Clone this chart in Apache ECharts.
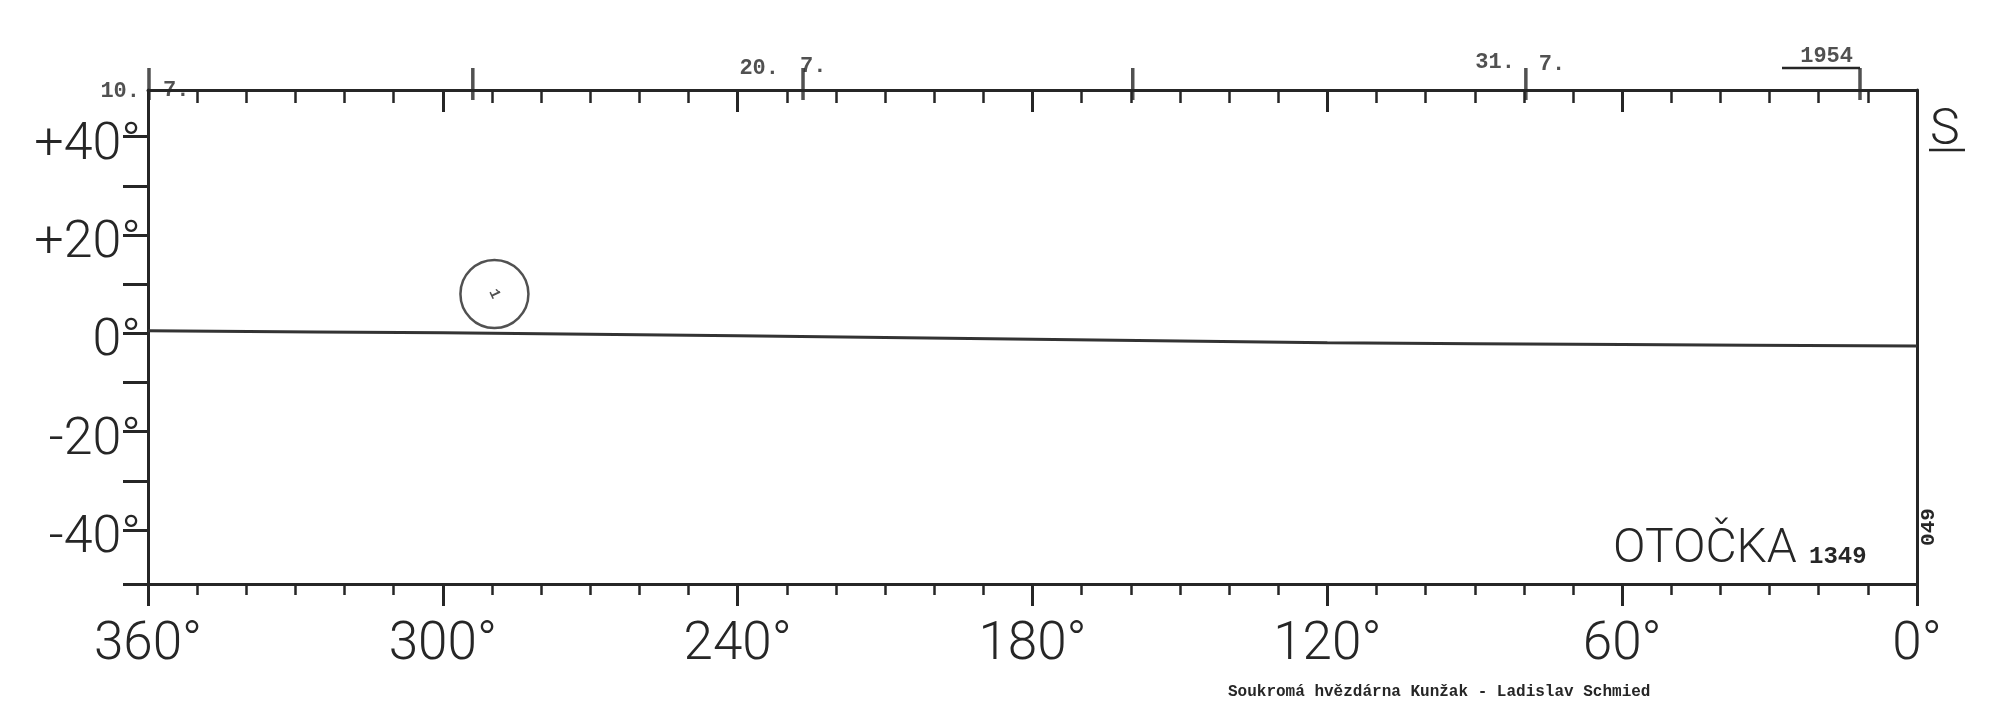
<!DOCTYPE html>
<html>
<head>
<meta charset="utf-8">
<script src="https://cdn.jsdelivr.net/npm/echarts@6/dist/echarts.min.js"></script>
<style>
html,body{margin:0;padding:0;background:#fff;}
#c{width:2000px;height:713px;}
</style>
</head>
<body>
<div id="c"></div>
<script>
// ---- data ----
const lonLabels = [360, 300, 240, 180, 120, 60, 0];
const latLabels = [40, 20, 0, -20, -40];
const latTicks = [-51, -40, -30, -20, -10, 0, 10, 20, 30, 40];
const equatorLon = [360, 300, 240, 180, 120, 60, 0];
const equatorLat = [0.5, 0.1, -0.5, -1.2, -1.9, -2.3, -2.6];
const groupLon = [289.5];
const groupLat = [8];
const groupNo = ['1'];
const dateMarkLon = [359.8, 293.9, 226.7, 159.6, 79.6, 11.6];
const dateLabelLeft = ['10.', '', '20.', '', '31.', '1954'];
const dateLabelRight = ['7.', '', '7.', '', '7.', ''];
const rotationNo = '1349';
const title = 'OTOČKA';
const sideCode = '049';
const hemisphere = 'S';
const credit = 'Soukromá hvězdárna Kunžak - Ladislav Schmied';

const LAT_MIN = -51, LAT_MAX = 49.5;
const INK = '#262626';
const bigFont = 'Roboto';
const typeFont = '"Liberation Mono", "DejaVu Sans Mono", monospace';

// label layout (presentation only)
const leftLabelLayout = [
  {distance: 9, dy: 1}, null, {distance: 24, dy: -22}, null, {distance: 11, dy: -28}, {distance: 7, dy: -34}
];
const rightLabelLayout = [
  {distance: 14, dy: 0}, null, {distance: -3, dy: -24}, null, {distance: 13, dy: -26}, null
];

const chart = echarts.init(document.getElementById('c'), null, {renderer: 'canvas'});

const lonAxisBase = {
  type: 'value', min: 0, max: 360, interval: 60, inverse: true,
  splitLine: {show: false},
  axisLine: {show: true, onZero: false, lineStyle: {color: INK, width: 3}},
};

const option = {
  animation: false,
  backgroundColor: '#ffffff',
  grid: {left: 148, right: 83, top: 90, bottom: 129, containLabel: false},
  xAxis: [
    Object.assign({}, lonAxisBase, {
      position: 'bottom',
      axisTick: {show: true, length: 22, lineStyle: {color: INK, width: 3}},
      minorTick: {show: true, splitNumber: 6, length: 11, lineStyle: {color: INK, width: 2.5}},
      axisLabel: {
        show: true, margin: 35, color: INK, fontFamily: bigFont, fontWeight: 300, fontSize: 53,
        formatter: v => v + '°'
      }
    }),
    Object.assign({}, lonAxisBase, {
      position: 'top',
      axisTick: {show: true, inside: true, length: 22, lineStyle: {color: INK, width: 3}},
      minorTick: {show: true, splitNumber: 6, length: 13, lineStyle: {color: INK, width: 2.5}},
      axisLabel: {show: false}
    })
  ],
  yAxis: [
    {
      type: 'value', min: LAT_MIN, max: LAT_MAX, position: 'left',
      splitLine: {show: false},
      axisLine: {show: true, onZero: false, lineStyle: {color: INK, width: 3}},
      axisTick: {show: true, length: 25, customValues: latTicks, lineStyle: {color: INK, width: 3}},
      axisLabel: {
        show: true, customValues: latLabels, margin: 7, color: INK,
        fontFamily: bigFont, fontWeight: 300, fontSize: 52,
        verticalAlign: 'top', lineHeight: 18,
        formatter: v => (v > 0 ? '+' + v : '' + v) + '°'
      }
    },
    {
      type: 'value', min: LAT_MIN, max: LAT_MAX, position: 'right',
      splitLine: {show: false},
      axisLine: {show: true, onZero: false, lineStyle: {color: INK, width: 3}},
      axisTick: {show: false}, axisLabel: {show: false}
    }
  ],
  series: [
    {
      name: 'equator', type: 'line', xAxisIndex: 0, yAxisIndex: 0,
      data: equatorLon.map((x, i) => [x, equatorLat[i]]),
      symbol: 'none', smooth: 0.3,
      lineStyle: {color: '#333', width: 3}
    },
    {
      name: 'groups', type: 'scatter', xAxisIndex: 0, yAxisIndex: 0,
      data: groupLon.map((x, i) => [x, groupLat[i], groupNo[i]]),
      symbol: 'circle', symbolSize: 68,
      itemStyle: {color: 'rgba(0,0,0,0)', borderColor: INK, borderWidth: 2.5},
      label: {show: true, position: 'inside', formatter: p => p.value[2],
        color: INK, fontFamily: typeFont, fontWeight: 'bold', fontSize: 15, rotate: -65}
    },
    {
      name: 'dateMarks', type: 'scatter', xAxisIndex: 1, yAxisIndex: 0, clip: false,
      data: dateMarkLon.map(x => [x, LAT_MAX]),
      symbol: 'rect', symbolSize: [3.5, 32], symbolOffset: [0, -6],
      itemStyle: {color: INK}
    },
    {
      name: 'dateLeft', type: 'scatter', xAxisIndex: 1, yAxisIndex: 0, clip: false,
      symbolSize: 0,
      data: dateMarkLon.map((x, i) => ({
        value: [x, LAT_MAX],
        label: leftLabelLayout[i] ? {show: true, position: 'left', distance: leftLabelLayout[i].distance,
          offset: [0, leftLabelLayout[i].dy], formatter: dateLabelLeft[i]} : {show: false}
      })),
      label: {color: INK, fontFamily: typeFont, fontWeight: 'bold', fontSize: 22}
    },
    {
      name: 'dateRight', type: 'scatter', xAxisIndex: 1, yAxisIndex: 0, clip: false,
      symbolSize: 0,
      data: dateMarkLon.map((x, i) => ({
        value: [x, LAT_MAX],
        label: rightLabelLayout[i] ? {show: true, position: 'right', distance: rightLabelLayout[i].distance,
          offset: [0, rightLabelLayout[i].dy], formatter: dateLabelRight[i]} : {show: false}
      })),
      label: {color: INK, fontFamily: typeFont, fontWeight: 'bold', fontSize: 22}
    }
  ]
};
chart.setOption(option);

// annotations
const yearPt = chart.convertToPixel({xAxisIndex: 1, yAxisIndex: 0}, [dateMarkLon[5], LAT_MAX]);
const rightEdge = chart.convertToPixel({xAxisIndex: 0}, 0);
chart.setOption({
  graphic: [
    {type: 'line', shape: {x1: yearPt[0] - 78, y1: 68, x2: yearPt[0], y2: 68},
      style: {stroke: INK, lineWidth: 2.5}},
    {type: 'text', left: rightEdge + 13, top: 106,
      style: {text: hemisphere, fill: INK, font: '300 50px ' + bigFont}},
    {type: 'line', shape: {x1: rightEdge + 12, y1: 150, x2: rightEdge + 48, y2: 150},
      style: {stroke: INK, lineWidth: 2.5}},
    {type: 'text', x: rightEdge + 12, y: 527, rotation: Math.PI / 2,
      style: {text: sideCode, fill: INK, font: 'bold 21px ' + typeFont, align: 'center', verticalAlign: 'middle'}},
    {type: 'text', x: 1613, y: 550,
      style: {text: title, fill: INK, font: '300 48px ' + bigFont, align: 'left', verticalAlign: 'middle'}},
    {type: 'text', x: 1809, y: 557,
      style: {text: rotationNo, fill: INK, font: 'bold 24px ' + typeFont, align: 'left', verticalAlign: 'middle'}},
    {type: 'text', x: 1228, y: 692,
      style: {text: credit, fill: INK, font: 'bold 16px ' + typeFont, align: 'left', verticalAlign: 'middle'}}
  ]
});
</script>
</body>
</html>
